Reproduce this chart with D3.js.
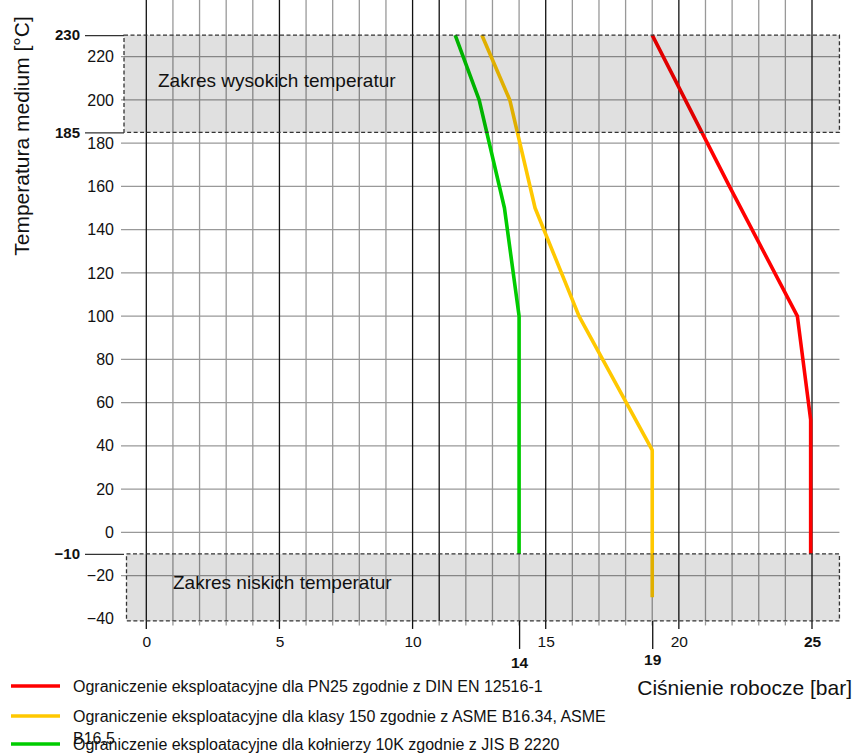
<!DOCTYPE html>
<html>
<head>
<meta charset="utf-8">
<script src="https://cdn.jsdelivr.net/npm/d3@7"></script>
<style>
body { margin: 0; background: #fff; }
svg { display: block; font-family: "Liberation Sans", Arial, Helvetica, sans-serif; }
</style>
</head>
<body>
<script>
// data: pressure [bar] vs medium temperature [°C]
var seriesNames = [
	'Ograniczenie eksploatacyjne dla PN25 zgodnie z DIN EN 12516-1',
	'Ograniczenie eksploatacyjne dla klasy 150 zgodnie z ASME B16.34, ASME|B16.5',
	'Ograniczenie eksploatacyjne dla kołnierzy 10K zgodnie z JIS B 2220'
];
var seriesColors = ['#ff0000', '#ffc800', '#00cc00'];

var pn25Pressure = [19, 21.9, 24.45, 24.95, 24.95];
var pn25Temp = [230, 160, 100, 52, -10];
var asmePressure = [12.6, 13.65, 14.6, 16.25, 19, 19];
var asmeTemp = [230, 200, 150, 100, 38, -30];
var jisPressure = [11.6, 12.5, 13.45, 14, 14];
var jisTemp = [230, 200, 150, 100, -10];

var xTicks = [0, 5, 10, 15, 20, 25];
var xMarks = [14, 19];
var yTicks = [-40, -20, 0, 20, 40, 60, 80, 100, 120, 140, 160, 180, 200, 220];
var yMarks = [230, 185, -10];
var bands = [
	{ label: 'Zakres wysokich temperatur', from: 185, to: 230 },
	{ label: 'Zakres niskich temperatur', from: -41, to: -10 }
];

var W = 856, H = 754;
var xLo = -0.95, xHi = 26.03, yLo = -41, yHi = 240;

var x = d3.scaleLinear().domain([0, 25]).range([146.3, 812]);
var y = d3.scaleLinear().domain([0, 220]).range([532.3, 56.7]);

var svg = d3.select('body').append('svg')
	.attr('width', W)
	.attr('height', H);

svg.append('rect').attr('width', W).attr('height', H).attr('fill', '#fff');

var left = x(xLo), right = x(xHi), top = y(yHi), bottom = y(yLo);

// grid
var gridX = d3.range(0, 26);
var darkX = [0, 5, 10, 11, 15, 20, 25];
var gGrid = svg.append('g');
gGrid.selectAll('line.h')
	.data(yTicks.filter(d => d > -40))
	.join('line')
	.attr('x1', left).attr('x2', right)
	.attr('y1', d => y(d)).attr('y2', d => y(d))
	.attr('stroke', '#999').attr('stroke-width', 1.3);
gGrid.selectAll('line.v')
	.data(gridX)
	.join('line')
	.attr('x1', d => x(d)).attr('x2', d => x(d))
	.attr('y1', top).attr('y2', bottom)
	.attr('stroke', d => darkX.includes(d) ? '#111' : '#999')
	.attr('stroke-width', 1.3);

// curves
var series = [
	d3.zip(pn25Pressure, pn25Temp),
	d3.zip(asmePressure, asmeTemp),
	d3.zip(jisPressure, jisTemp)
];
var line = d3.line().x(d => x(d[0])).y(d => y(d[1]));
svg.append('g').selectAll('path')
	.data(series)
	.join('path')
	.attr('d', line)
	.attr('fill', 'none')
	.attr('stroke', (d, i) => seriesColors[i])
	.attr('stroke-width', 3.6)
	.attr('stroke-linejoin', 'round');

// plot frame
svg.append('rect')
	.attr('x', left).attr('y', top)
	.attr('width', right - left).attr('height', bottom - top)
	.attr('fill', 'none').attr('stroke', '#444').attr('stroke-width', 1.2);

// temperature bands (darken what lies beneath)
var gBand = svg.append('g');
gBand.selectAll('rect')
	.data(bands)
	.join('rect')
	.attr('x', (d, i) => i === 0 ? left + 3 : left + 5.5)
	.attr('y', d => y(d.to))
	.attr('width', (d, i) => right - left - (i === 0 ? 3 : 5.5))
	.attr('height', d => y(d.from) - y(d.to))
	.attr('fill', '#000').attr('fill-opacity', 0.12)
	.attr('stroke', '#333').attr('stroke-width', 1.3)
	.attr('stroke-dasharray', '4,2.5');
gBand.selectAll('text')
	.data(bands)
	.join('text')
	.attr('x', (d, i) => i === 0 ? 158 : 173)
	.attr('y', (d, i) => i === 0 ? 87 : 589)
	.attr('font-size', 19)
	.attr('fill', '#111')
	.text(d => d.label);

// x axis: small ticks below the frame
var gTicks = svg.append('g');
gTicks.selectAll('line')
	.data(gridX)
	.join('line')
	.attr('x1', d => x(d)).attr('x2', d => x(d))
	.attr('y1', bottom).attr('y2', d => bottom + (d % 5 === 0 ? 8 : 4.5))
	.attr('stroke', d => d % 5 === 0 ? '#111' : '#999')
	.attr('stroke-width', 1.3);

var xAxis = svg.append('g')
	.attr('transform', `translate(0,${bottom})`)
	.call(d3.axisBottom(x).tickValues(xTicks).tickSize(0).tickPadding(15));
xAxis.select('.domain').remove();
xAxis.selectAll('text')
	.attr('font-size', 15.5)
	.attr('font-family', null)
	.attr('fill', '#111')
	.attr('font-weight', d => d === 25 ? 'bold' : 'normal');

var xMarkAxis = svg.append('g')
	.attr('transform', `translate(0,${bottom})`)
	.call(d3.axisBottom(x).tickValues(xMarks).tickSize(28).tickPadding(8));
xMarkAxis.select('.domain').remove();
xMarkAxis.selectAll('line').attr('stroke', '#111').attr('stroke-width', 1.3);
xMarkAxis.selectAll('text')
	.attr('font-size', 15.5)
	.attr('font-family', null)
	.attr('font-weight', 'bold')
	.attr('fill', '#111')
	.attr('y', d => d === 19 ? 33 : 36);

// y axis
var yAxis = svg.append('g')
	.attr('transform', `translate(${left},0)`)
	.call(d3.axisLeft(y).tickValues(yTicks).tickSize(0).tickPadding(7));
yAxis.select('.domain').remove();
yAxis.selectAll('text')
	.attr('font-size', 16)
	.attr('font-family', null)
	.attr('fill', '#111');

var yMarkAxis = svg.append('g')
	.attr('transform', `translate(${left + 3},0)`)
	.call(d3.axisLeft(y).tickValues(yMarks).tickSize(39).tickPadding(5));
yMarkAxis.select('.domain').remove();
yMarkAxis.selectAll('line').attr('stroke', '#333').attr('stroke-width', 1.3);
yMarkAxis.selectAll('text')
	.attr('font-size', 15)
	.attr('font-family', null)
	.attr('font-weight', 'bold')
	.attr('fill', '#111');

// axis titles
svg.append('text')
	.attr('transform', 'translate(29,136) rotate(-90)')
	.attr('text-anchor', 'middle')
	.attr('font-size', 21)
	.attr('fill', '#111')
	.text('Temperatura medium [°C]');

svg.append('text')
	.attr('x', 852).attr('y', 695)
	.attr('text-anchor', 'end')
	.attr('font-size', 21)
	.attr('fill', '#111')
	.text('Ciśnienie robocze [bar]');

// legend
var legendY = [686, 716, 744];
var gLegend = svg.append('g');
var item = gLegend.selectAll('g')
	.data(seriesNames)
	.join('g')
	.attr('transform', (d, i) => `translate(0,${legendY[i]})`);
item.append('line')
	.attr('x1', 11).attr('x2', 60)
	.attr('stroke', (d, i) => seriesColors[i])
	.attr('stroke-width', 3.6);
item.append('text')
	.attr('x', 73)
	.attr('y', 6)
	.attr('font-size', 16)
	.attr('fill', '#111')
	.each(function(d) {
		var parts = d.split('|');
		var t = d3.select(this);
		parts.forEach((p, k) => {
			t.append('tspan')
				.attr('x', 73)
				.attr('dy', k === 0 ? 0 : 22)
				.text(p);
		});
	});
</script>
</body>
</html>
